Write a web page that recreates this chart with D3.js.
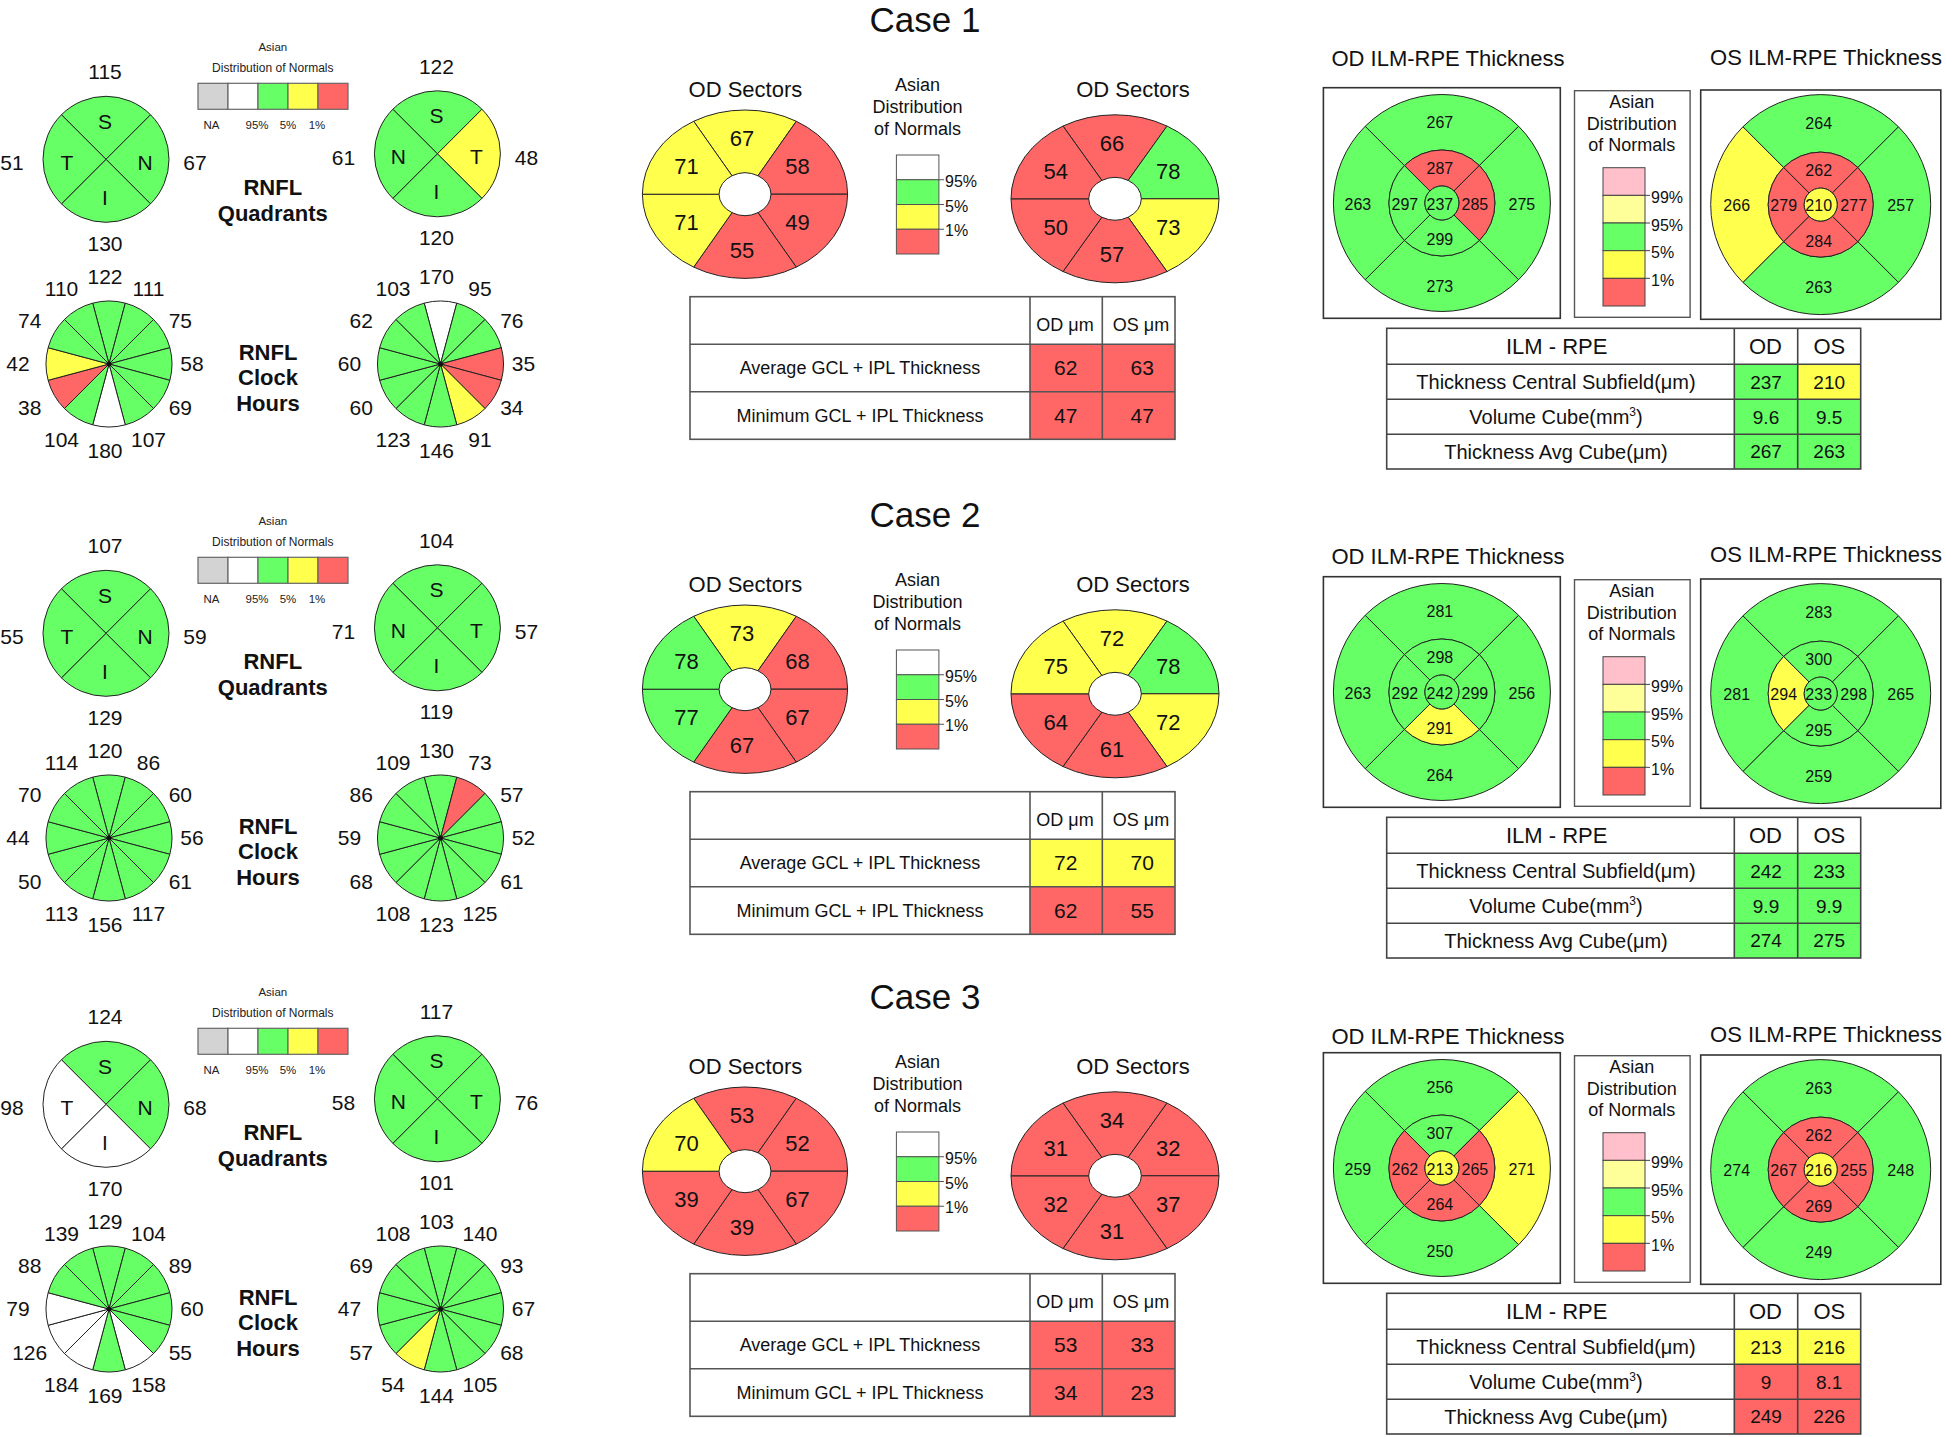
<!DOCTYPE html>
<html><head><meta charset="utf-8">
<script src="https://cdn.jsdelivr.net/npm/d3@7"></script>
<style>
body{margin:0;background:#fff}
svg{display:block}
text{font-family:"Liberation Sans",Arial,Helvetica,sans-serif;fill:#111}
</style>
</head><body>
<svg id="c" width="1946" height="1437"></svg>
<script>
// ---------------- DATA ----------------
const caseTitles = ["Case 1", "Case 2", "Case 3"];
const categoryKeys = ["na", "w", "g", "y", "r", "pk", "ly"];
const categoryColors = ["#D3D3D3", "#FFFFFF", "#66FF66", "#FFFF4D", "#FF6666", "#FFC0CB", "#FFFF99"];

// RNFL quadrants, order: top, right, bottom, left
const quadODLetters = ["S", "N", "I", "T"];
const quadOSLetters = ["S", "T", "I", "N"];
const quadOD = [[115, 67, 130, 51], [107, 59, 129, 55], [124, 68, 170, 98]];
const quadODcat = [["g","g","g","g"], ["g","g","g","g"], ["g","g","w","w"]];
const quadOS = [[122, 48, 120, 61], [104, 57, 119, 71], [117, 76, 101, 58]];
const quadOScat = [["g","y","g","g"], ["g","g","g","g"], ["g","g","g","g"]];

// RNFL clock hours, order: 12,1,2,...,11
const clockOD = [
  [122, 111, 75, 58, 69, 107, 180, 104, 38, 42, 74, 110],
  [120, 86, 60, 56, 61, 117, 156, 113, 50, 44, 70, 114],
  [129, 104, 89, 60, 55, 158, 169, 184, 126, 79, 88, 139]];
const clockODcat = [
  ["g","g","g","g","g","g","w","g","r","y","g","g"],
  ["g","g","g","g","g","g","g","g","g","g","g","g"],
  ["g","g","g","g","g","w","g","w","w","w","g","g"]];
const clockOS = [
  [170, 95, 76, 35, 34, 91, 146, 123, 60, 60, 62, 103],
  [130, 73, 57, 52, 61, 125, 123, 108, 68, 59, 86, 109],
  [103, 140, 93, 67, 68, 105, 144, 54, 57, 47, 69, 108]];
const clockOScat = [
  ["w","g","g","r","r","y","g","g","g","g","g","g"],
  ["g","r","g","g","g","g","g","g","g","g","g","g"],
  ["g","g","g","g","g","g","g","y","g","g","g","g"]];

// GCL+IPL sectors, order: top, upper-right, lower-right, bottom, lower-left, upper-left
const gclOD = [[67, 58, 49, 55, 71, 71], [73, 68, 67, 67, 77, 78], [53, 52, 67, 39, 39, 70]];
const gclODcat = [["y","r","r","r","y","y"], ["y","r","r","r","g","g"], ["r","r","r","r","r","y"]];
const gclOS = [[66, 78, 73, 57, 50, 54], [72, 78, 72, 61, 64, 75], [34, 32, 37, 31, 32, 31]];
const gclOScat = [["r","g","y","r","r","r"], ["y","g","y","r","r","y"], ["r","r","r","r","r","r"]];

// GCL+IPL table
const gclRowLabels = ["Average GCL + IPL Thickness", "Minimum GCL + IPL Thickness"];
const gclHeaders = ["OD μm", "OS μm"];
const gclTableOD = [[62, 47], [72, 62], [53, 34]];
const gclTableODcat = [["r","r"], ["y","r"], ["r","r"]];
const gclTableOS = [[63, 47], [70, 55], [33, 23]];
const gclTableOScat = [["r","r"], ["y","r"], ["r","r"]];

// ILM-RPE ETDRS grid, order: center, inner top,right,bottom,left, outer top,right,bottom,left
const ilmOD = [
  [237, 287, 285, 299, 297, 267, 275, 273, 263],
  [242, 298, 299, 291, 292, 281, 256, 264, 263],
  [213, 307, 265, 264, 262, 256, 271, 250, 259]];
const ilmODcat = [
  ["g","r","r","g","g","g","g","g","g"],
  ["g","g","g","y","g","g","g","g","g"],
  ["y","g","r","r","r","g","y","g","g"]];
const ilmOS = [
  [210, 262, 277, 284, 279, 264, 257, 263, 266],
  [233, 300, 298, 295, 294, 283, 265, 259, 281],
  [216, 262, 255, 269, 267, 263, 248, 249, 274]];
const ilmOScat = [
  ["y","r","r","r","r","g","g","g","y"],
  ["g","g","g","g","y","g","g","g","g"],
  ["y","r","r","r","r","g","g","g","g"]];

// ILM-RPE table
const ilmRowLabels = ["Thickness Central Subfield(μm)", "Volume Cube(mm", "Thickness Avg Cube(μm)"];
const ilmHeaders = ["ILM - RPE", "OD", "OS"];
const ilmTableOD = [[237, 9.6, 267], [242, 9.9, 274], [213, 9, 249]];
const ilmTableODcat = [["g","g","g"], ["g","g","g"], ["y","r","r"]];
const ilmTableOS = [[210, 9.5, 263], [233, 9.9, 275], [216, 8.1, 226]];
const ilmTableOScat = [["y","g","g"], ["g","g","g"], ["y","r","r"]];

// legends
const smallLegendCats = ["na", "w", "g", "y", "r"];
const smallLegendLabels = ["NA", "95%", "5%", "1%"];
const midLegendCats = ["w", "g", "y", "r"];
const midLegendLabels = ["95%", "5%", "1%"];
const ilmLegendCats = ["pk", "ly", "g", "y", "r"];
const ilmLegendLabels = ["99%", "95%", "5%", "1%"];

// ---------------- DRAW ----------------
const color = d3.scaleOrdinal().domain(categoryKeys).range(categoryColors);
const svg = d3.select("#c");
svg.append("rect").attr("width", 1946).attr("height", 1437).attr("fill", "#fff");
const D = Math.PI / 180;

function txt(g, x, yc, s, size, opt = {}) {
  const t = g.append("text").attr("x", x).attr("y", yc + 0.355 * size)
    .attr("text-anchor", opt.anchor || "middle").attr("font-size", size).text(s);
  if (opt.bold) t.attr("font-weight", "bold");
  if (opt.fill) t.style("fill", opt.fill);
  return t;
}

const quadAngles = [[-45, 45], [45, 135], [135, 225], [225, 315]];
const quadLetterOff = [[-1, -38], [39, 3], [-1, 38], [-39, 3]];
const quadValOff = [[-1, -87.5], [89, 3.4], [-1, 84], [-94, 3.4]];

function drawQuad(g, cx, cy, r, vals, cats, letters) {
  const arc = d3.arc().innerRadius(0).outerRadius(r);
  const gg = g.append("g").attr("transform", `translate(${cx},${cy})`);
  gg.selectAll("path").data(vals).join("path")
    .attr("d", (d, i) => arc({startAngle: quadAngles[i][0] * D, endAngle: quadAngles[i][1] * D}))
    .attr("fill", (d, i) => color(cats[i])).attr("stroke", "#222").attr("stroke-width", 1);
  letters.forEach((l, i) => txt(gg, quadLetterOff[i][0], quadLetterOff[i][1], l, 21));
  vals.forEach((v, i) => txt(gg, quadValOff[i][0], quadValOff[i][1], v, 21));
}

function drawClock(g, cx, cy, r, vals, cats) {
  const arc = d3.arc().innerRadius(0).outerRadius(r);
  const gg = g.append("g").attr("transform", `translate(${cx},${cy})`);
  gg.selectAll("path").data(vals).join("path")
    .attr("d", (d, i) => arc({startAngle: (i * 30 - 15) * D, endAngle: (i * 30 + 15) * D}))
    .attr("fill", (d, i) => color(cats[i])).attr("stroke", "#222").attr("stroke-width", 1);
  gg.append("circle").attr("r", 2.5).attr("fill", "#111");
  const lr = d3.scaleLinear().domain([0, 1]).range([0, 87]);
  vals.forEach((v, i) => {
    const a = i * 30 * D;
    txt(gg, -4 + lr(Math.sin(a)), -lr(Math.cos(a)), v, 21);
  });
}

function drawSectors(g, cx, cy, rx, ry, vals, cats) {
  const arc = d3.arc().innerRadius(rx * 0.253).outerRadius(rx);
  const gg = g.append("g").attr("transform", `translate(${cx},${cy}) scale(1,${ry / rx})`);
  gg.selectAll("path").data(vals).join("path")
    .attr("d", (d, i) => arc({startAngle: (i * 60 - 30) * D, endAngle: (i * 60 + 30) * D}))
    .attr("fill", (d, i) => color(cats[i])).attr("stroke", "#222").attr("stroke-width", 1)
    .attr("vector-effect", "non-scaling-stroke");
  vals.forEach((v, i) => {
    const a = i * 60 * D;
    txt(g, cx - 3 + 0.625 * rx * Math.sin(a), cy - 0.665 * ry * Math.cos(a), v, 22);
  });
}

const ilmSecAngles = [[-45, 45], [45, 135], [135, 225], [225, 315]];
const ilmDirs = [[0, -1], [1, 0], [0, 1], [-1, 0]];
function drawIlm(g, cx, cy, r0, r1, r2, vals, cats) {
  const gg = g.append("g").attr("transform", `translate(${cx},${cy})`);
  const inner = d3.arc().innerRadius(r0).outerRadius(r1);
  const outer = d3.arc().innerRadius(r1).outerRadius(r2);
  gg.selectAll("path.o").data([5, 6, 7, 8]).join("path").attr("class", "o")
    .attr("d", (d, i) => outer({startAngle: ilmSecAngles[i][0] * D, endAngle: ilmSecAngles[i][1] * D}))
    .attr("fill", d => color(cats[d])).attr("stroke", "#222").attr("stroke-width", 1);
  gg.selectAll("path.i").data([1, 2, 3, 4]).join("path").attr("class", "i")
    .attr("d", (d, i) => inner({startAngle: ilmSecAngles[i][0] * D, endAngle: ilmSecAngles[i][1] * D}))
    .attr("fill", d => color(cats[d])).attr("stroke", "#222").attr("stroke-width", 1);
  gg.append("circle").attr("r", r0).attr("fill", color(cats[0])).attr("stroke", "#222").attr("stroke-width", 1);
  txt(gg, -2, 1, vals[0], 16);
  for (let i = 0; i < 4; i++) {
    txt(gg, -2 + ilmDirs[i][0] * 35, 1 + ilmDirs[i][1] * 35.5, vals[1 + i], 16);
    txt(gg, -2 + ilmDirs[i][0] * 82, 1 + ilmDirs[i][1] * 82, vals[5 + i], 16);
  }
}

const leftOff = [0, 474, 945];
const midOff = [0, 495, 977];
const rightOff = [0, 489, 965];
const rightTitleOff = [0, 497.7, 977.7];

caseTitles.forEach((title, c) => {
  // ---------- LEFT COLUMN ----------
  const L = leftOff[c];
  const gl = svg.append("g").attr("transform", `translate(0,${L})`);
  drawQuad(gl, 106, 159.3, 63, quadOD[c], quadODcat[c], quadODLetters);
  drawQuad(gl, 437.4, 153.8, 63, quadOS[c], quadOScat[c], quadOSLetters);
  // small legend
  txt(gl, 272.8, 46.7, "Asian", 11.5, {fill: "#222"});
  txt(gl, 272.8, 67.7, "Distribution of Normals", 12, {fill: "#222"});
  const lx = d3.scaleBand().domain(d3.range(5)).range([198, 348]);
  gl.selectAll("rect.sl").data(smallLegendCats).join("rect").attr("class", "sl")
    .attr("x", (d, i) => lx(i)).attr("y", 83.3).attr("width", lx.bandwidth()).attr("height", 26)
    .attr("fill", d => color(d)).attr("stroke", "#666").attr("stroke-width", 1.2);
  const slx = [211.5, 257, 288, 317];
  smallLegendLabels.forEach((s, i) => txt(gl, slx[i], 125, s, 11.5, {fill: "#222"}));
  txt(gl, 272.8, 186.7, "RNFL", 22, {bold: true});
  txt(gl, 272.8, 213.3, "Quadrants", 22, {bold: true});
  drawClock(gl, 109, 364, 63, clockOD[c], clockODcat[c]);
  drawClock(gl, 440.5, 364, 63, clockOS[c], clockOScat[c]);
  txt(gl, 268, 351.7, "RNFL", 22, {bold: true});
  txt(gl, 268, 377, "Clock", 22, {bold: true});
  txt(gl, 268, 403.3, "Hours", 22, {bold: true});

  // ---------- MIDDLE COLUMN ----------
  const M = midOff[c];
  const gm = svg.append("g").attr("transform", `translate(0,${M})`);
  txt(gm, 925, 20, title, 35);
  txt(gm, 745.4, 89.3, "OD Sectors", 22);
  txt(gm, 1133, 89.3, "OD Sectors", 22);
  drawSectors(gm, 745, 194.2, 102.6, 84.2, gclOD[c], gclODcat[c]);
  drawSectors(gm, 1115, 198.8, 104, 84, gclOS[c], gclOScat[c]);
  txt(gm, 917.5, 85, "Asian", 18);
  txt(gm, 917.5, 106.7, "Distribution", 18);
  txt(gm, 917.5, 128.3, "of Normals", 18);
  const my = d3.scaleBand().domain(d3.range(4)).range([155, 254]);
  gm.selectAll("rect.ml").data(midLegendCats).join("rect").attr("class", "ml")
    .attr("x", 896.4).attr("y", (d, i) => my(i)).attr("width", 42.5).attr("height", my.bandwidth())
    .attr("fill", d => color(d)).attr("stroke", "#555").attr("stroke-width", 1);
  midLegendLabels.forEach((s, i) => {
    const yb = my(i + 1);
    gm.append("line").attr("x1", 938.9).attr("x2", 944).attr("y1", yb).attr("y2", yb).attr("stroke", "#555");
    txt(gm, 945, yb + 1.5, s, 16, {anchor: "start"});
  });
  // GCL table
  const tx = [690, 1030, 1102.3, 1175];
  const ty = [296.7, 344.3, 391.7, 439.3];
  const tg = gm.append("g");
  gclRowLabels.forEach((lab, r) => {
    const vals = [gclTableOD[c][r], gclTableOS[c][r]];
    const cats = [gclTableODcat[c][r], gclTableOScat[c][r]];
    vals.forEach((v, k) => {
      tg.append("rect").attr("x", tx[k + 1]).attr("y", ty[r + 1]).attr("width", tx[k + 2] - tx[k + 1])
        .attr("height", ty[r + 2] - ty[r + 1]).attr("fill", color(cats[k]));
      txt(tg, k === 0 ? 1065.7 : 1142.3, (ty[r + 1] + ty[r + 2]) / 2, v, 21);
    });
    txt(tg, 860, (ty[r + 1] + ty[r + 2]) / 2, lab, 18);
  });
  gclHeaders.forEach((h, k) => txt(tg, k === 0 ? 1065 : 1141, 325, h, 18));
  tg.append("rect").attr("x", tx[0]).attr("y", ty[0]).attr("width", tx[3] - tx[0]).attr("height", ty[3] - ty[0])
    .attr("fill", "none").attr("stroke", "#555").attr("stroke-width", 1.6);
  [1, 2].forEach(i => tg.append("line").attr("x1", tx[0]).attr("x2", tx[3]).attr("y1", ty[i]).attr("y2", ty[i]).attr("stroke", "#555").attr("stroke-width", 1.6));
  [1, 2].forEach(i => tg.append("line").attr("x1", tx[i]).attr("x2", tx[i]).attr("y1", ty[0]).attr("y2", ty[3]).attr("stroke", "#555").attr("stroke-width", 1.6));

  // ---------- RIGHT COLUMN ----------
  const R = rightOff[c], RT = rightTitleOff[c];
  txt(svg, 1448, 58.3 + RT, "OD ILM-RPE Thickness", 22);
  txt(svg, 1826, 56.7 + RT, "OS ILM-RPE Thickness", 22);
  const gr = svg.append("g").attr("transform", `translate(0,${R})`);
  gr.append("rect").attr("x", 1323.4).attr("y", 87.7).attr("width", 236.9).attr("height", 230.6)
    .attr("fill", "#fff").attr("stroke", "#333").attr("stroke-width", 1.6);
  drawIlm(gr, 1441.9, 203, 17, 53, 108.5, ilmOD[c], ilmODcat[c]);
  gr.append("rect").attr("x", 1700.7).attr("y", 90).attr("width", 240.1).attr("height", 229.3)
    .attr("fill", "#fff").attr("stroke", "#333").attr("stroke-width", 1.6);
  drawIlm(gr, 1820.7, 204.6, 16.5, 52.5, 110, ilmOS[c], ilmOScat[c]);
  // legend
  gr.append("rect").attr("x", 1574.5).attr("y", 90.7).attr("width", 115.6).attr("height", 226.6)
    .attr("fill", "#fff").attr("stroke", "#555").attr("stroke-width", 1.4);
  txt(gr, 1631.7, 101.7, "Asian", 18);
  txt(gr, 1631.7, 123.3, "Distribution", 18);
  txt(gr, 1631.7, 145, "of Normals", 18);
  const ry = d3.scaleBand().domain(d3.range(5)).range([167.7, 306]);
  gr.selectAll("rect.rl").data(ilmLegendCats).join("rect").attr("class", "rl")
    .attr("x", 1603).attr("y", (d, i) => ry(i)).attr("width", 42).attr("height", ry.bandwidth())
    .attr("fill", d => color(d)).attr("stroke", "#444").attr("stroke-width", 1);
  ilmLegendLabels.forEach((s, i) => {
    const yb = ry(i + 1);
    gr.append("line").attr("x1", 1645).attr("x2", 1650).attr("y1", yb).attr("y2", yb).attr("stroke", "#444");
    txt(gr, 1651, yb + 2, s, 16, {anchor: "start"});
  });
  // ILM table
  const ix = [1386.7, 1734.3, 1797.7, 1860.7];
  const iy = [328.3, 364.3, 399.3, 434.3, 469];
  const ig = gr.append("g");
  ilmRowLabels.forEach((lab, r) => {
    const vals = [ilmTableOD[c][r], ilmTableOS[c][r]];
    const cats = [ilmTableODcat[c][r], ilmTableOScat[c][r]];
    const yc = (iy[r + 1] + iy[r + 2]) / 2;
    vals.forEach((v, k) => {
      ig.append("rect").attr("x", ix[k + 1]).attr("y", iy[r + 1]).attr("width", ix[k + 2] - ix[k + 1])
        .attr("height", iy[r + 2] - iy[r + 1]).attr("fill", color(cats[k]));
      txt(ig, (ix[k + 1] + ix[k + 2]) / 2, yc, v, 19);
    });
    const t = txt(ig, 1556, yc, lab, 20);
    if (r === 1) {
      t.append("tspan").attr("font-size", 12).attr("dy", -8).text("3");
      t.append("tspan").attr("dy", 8).text(")");
    }
  });
  const hx = [1556.7, 1765.5, 1829.3];
  ilmHeaders.forEach((h, k) => txt(ig, hx[k], 346.5, h, 22));
  ig.append("rect").attr("x", ix[0]).attr("y", iy[0]).attr("width", ix[3] - ix[0]).attr("height", iy[4] - iy[0])
    .attr("fill", "none").attr("stroke", "#444").attr("stroke-width", 1.6);
  [1, 2, 3].forEach(i => ig.append("line").attr("x1", ix[0]).attr("x2", ix[3]).attr("y1", iy[i]).attr("y2", iy[i]).attr("stroke", "#444").attr("stroke-width", 1.6));
  [1, 2].forEach(i => ig.append("line").attr("x1", ix[i]).attr("x2", ix[i]).attr("y1", iy[0]).attr("y2", iy[4]).attr("stroke", "#444").attr("stroke-width", 1.6));
});
</script>
</body></html>
